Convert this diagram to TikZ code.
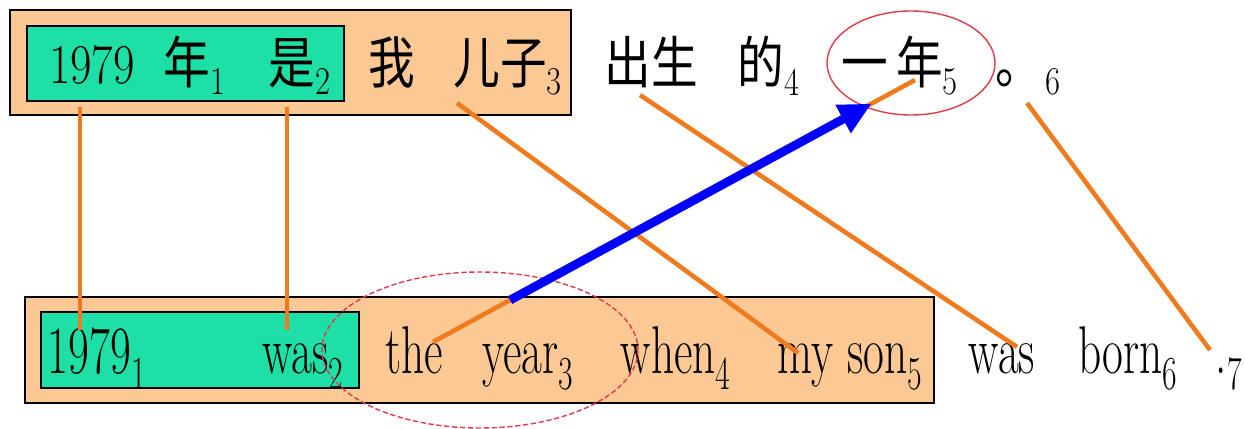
\documentclass[tikz,border=0pt]{standalone}
\usepackage{fontspec}
\newfontfamily\cjk{Noto Sans CJK SC}
\usepackage{graphicx}
\usepackage{xcolor}
\definecolor{peach}{HTML}{FCC995}
\definecolor{chunk}{HTML}{1EDFA6}
\definecolor{linkorange}{HTML}{F07A1E}
\definecolor{circlered}{HTML}{E23A48}
\usetikzlibrary{arrows.meta, calc}
\newcommand{\toprow}[1]{\scalebox{0.83}[1]{\fontsize{32}{36}\selectfont\rmfamily #1}}
\newcommand{\botrow}[1]{\scalebox{0.67}[1]{\fontsize{38.5}{42}\selectfont\rmfamily #1}}

\begin{document}
\begin{tikzpicture}[x=0.02cm, y=-0.02cm,
  word/.style={inner sep=0pt, anchor=base},
  sentbox/.style={draw=black, line width=1pt, fill=peach},
  chunkbox/.style={draw=black, line width=1pt, fill=chunk},
  link/.style={draw=linkorange, line width=2.6pt},
  focus/.style={draw=circlered, line width=0.8pt}]

  \useasboundingbox (0,0) rectangle (1245,429);

  % boxes
  \draw[sentbox]  (10,10)  rectangle (571,115);
  \draw[chunkbox] (27,26)  rectangle (344,101);
  \draw[sentbox]  (25,297) rectangle (934,403);
  \draw[chunkbox] (41,312) rectangle (359,388);

  % Chinese sentence
  \node[word] (zh1)  at (92,84)   {\toprow{1979}};
  \node[word] (zh2)  at (195,84)  {\toprow{{\cjk 年}\textsubscript{1}}};
  \node[word] (zh3)  at (300,84)  {\toprow{{\cjk 是}\textsubscript{2}}};
  \node[word] (zh4)  at (392,84)  {\toprow{\cjk 我}};
  \node[word] (zh5)  at (508,84)  {\toprow{{\cjk 儿子}\textsubscript{3}}};
  \node[word] (zh6)  at (651,84)  {\toprow{\cjk 出生}};
  \node[word] (zh7)  at (769,84)  {\toprow{{\cjk 的}\textsubscript{4}}};
  \node[word] (zh8)  at (900,84)  {\toprow{{\cjk 一\,年}\textsubscript{5}}};
  \node[word] (zh9)  at (1019,84) {\toprow{\cjk 。}};
  \node[word] (zh10) at (1053,84) {\toprow{\textsubscript{6}}};

  % English sentence
  \node[word] (en1) at (97,373)   {\botrow{1979\textsubscript{1}}};
  \node[word] (en2) at (303,373)  {\botrow{was\textsubscript{2}}};
  \node[word] (en3) at (414,373)  {\botrow{the}};
  \node[word] (en4) at (528,373)  {\botrow{year\textsubscript{3}}};
  \node[word] (en5) at (676,373)  {\botrow{when\textsubscript{4}}};
  \node[word] (en6) at (850,373)  {\botrow{my son\textsubscript{5}}};
  \node[word] (en7) at (1002,373) {\botrow{was}};
  \node[word] (en8) at (1128,373) {\botrow{born\textsubscript{6}}};
  \node[word] (en9) at (1229,373) {\botrow{.\textsubscript{7}}};

  % circled words
  \draw[focus] (911,63) ellipse [x radius=84, y radius=52];
  \draw[focus, dash pattern=on 3pt off 1.5pt] (480,350) ellipse [x radius=158, y radius=78];

  % alignment links
  \draw[link] ($(zh1.base)+(-12,23)$)  -- ($(en1.base)+(-17,-43)$);
  \draw[link] ($(zh3.base)+(-13,23)$)  -- ($(en2.base)+(-16,-43)$);
  \draw[link] ($(zh5.base)+(-51,19)$)  -- ($(en6.base)+(-52,-20)$);
  \draw[link] ($(zh6.base)+(-11,11)$)  -- ($(en7.base)+(15,-26)$);
  \draw[link] ($(zh10.base)+(-26,19)$) -- ($(en9.base)+(-19,-23)$);
  \coordinate (yr) at ($(zh8.base)+(15,-4)$);
  \coordinate (th) at ($(en3.base)+(19,-31)$);
  \draw[link] (th) -- (yr);

  % reordering arrow
  \draw[blue, line width=5pt, -{Triangle[length=0.65cm, width=0.6cm]}]
    ($(th)!0.16!(yr)$) -- ($(th)!0.91!(yr)$);

\end{tikzpicture}
\end{document}
